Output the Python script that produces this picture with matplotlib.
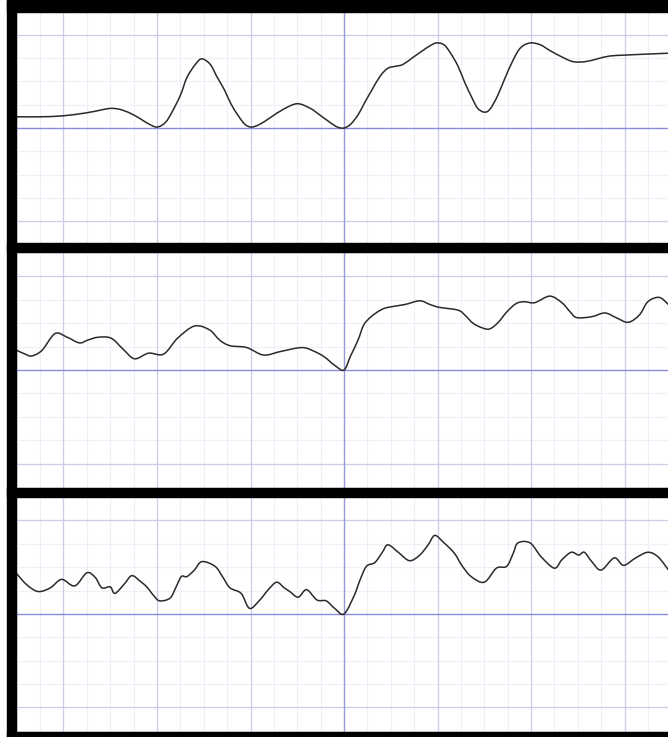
import matplotlib
matplotlib.use("Agg")
import matplotlib.pyplot as plt
from matplotlib.patches import Rectangle, PathPatch
from matplotlib.path import Path

# ---- data (x in grid units, y in grid units) ----
x1 = [-3.50, -3.25, -3.01, -2.77, -2.61, -2.50, -2.40, -2.29, -2.18, -2.10, -2.00, -1.91, -1.84,
      -1.75, -1.68, -1.59, -1.52, -1.43, -1.36, -1.28, -1.21, -1.13, -1.06, -0.99, -0.90, -0.79,
      -0.65, -0.50, -0.36, -0.26, -0.15, -0.07, 0.00, 0.07, 0.15, 0.22, 0.30, 0.39, 0.47, 0.55,
      0.63, 0.73, 0.83, 0.92, 0.99, 1.07, 1.14, 1.22, 1.29, 1.37, 1.43, 1.50, 1.56, 1.64, 1.72,
      1.81, 1.89, 1.99, 2.10, 2.20, 2.33, 2.45, 2.58, 2.71, 2.84, 3.01, 3.22, 3.47]
y1 = [0.12, 0.12, 0.13, 0.16, 0.19, 0.21, 0.20, 0.16, 0.10, 0.05, 0.01, 0.06, 0.17,
      0.35, 0.54, 0.68, 0.74, 0.68, 0.55, 0.41, 0.26, 0.13, 0.04, 0.01, 0.04, 0.11,
      0.20, 0.26, 0.21, 0.14, 0.06, 0.01, 0.00, 0.04, 0.14, 0.27, 0.41, 0.56, 0.64, 0.66,
      0.68, 0.75, 0.82, 0.88, 0.91, 0.89, 0.80, 0.66, 0.49, 0.32, 0.21, 0.17, 0.20, 0.34, 0.53,
      0.73, 0.86, 0.91, 0.89, 0.83, 0.76, 0.71, 0.71, 0.74, 0.77, 0.78, 0.79, 0.80]

x2 = [-3.50, -3.41, -3.34, -3.23, -3.09, -2.96, -2.83, -2.74, -2.63, -2.49, -2.36, -2.24, -2.09,
      -1.93, -1.78, -1.60, -1.44, -1.33, -1.22, -1.04, -0.86, -0.67, -0.45, -0.32, -0.21, -0.10,
      0.00, 0.07, 0.15, 0.21, 0.29, 0.39, 0.47, 0.65, 0.81, 0.92, 1.02, 1.22, 1.30, 1.38, 1.48,
      1.56, 1.65, 1.74, 1.84, 1.93, 2.04, 2.20, 2.33, 2.42, 2.49, 2.65, 2.79, 2.91, 3.04, 3.16,
      3.24, 3.32, 3.39, 3.47]
y2 = [0.21, 0.17, 0.15, 0.21, 0.39, 0.35, 0.29, 0.32, 0.35, 0.34, 0.22, 0.12, 0.18,
      0.17, 0.34, 0.47, 0.43, 0.32, 0.26, 0.24, 0.16, 0.20, 0.24, 0.20, 0.14, 0.05,
      0.00, 0.15, 0.32, 0.48, 0.57, 0.64, 0.67, 0.70, 0.74, 0.70, 0.67, 0.64, 0.58, 0.50, 0.45,
      0.44, 0.51, 0.62, 0.71, 0.73, 0.72, 0.79, 0.72, 0.62, 0.56, 0.57, 0.61, 0.56, 0.51, 0.59,
      0.72, 0.77, 0.77, 0.70]

x3 = [-3.50, -3.39, -3.27, -3.14, -3.02, -2.88, -2.75, -2.66, -2.59, -2.50, -2.45, -2.35, -2.27,
      -2.18, -2.11, -2.03, -1.97, -1.86, -1.80, -1.74, -1.68, -1.60, -1.52, -1.38, -1.30, -1.22,
      -1.10, -1.01, -0.90, -0.81, -0.72, -0.64, -0.58, -0.49, -0.40, -0.29, -0.19, -0.10, 0.00,
      0.11, 0.17, 0.24, 0.33, 0.41, 0.47, 0.58, 0.70, 0.81, 0.90, 0.97, 1.06, 1.18, 1.26, 1.36,
      1.50, 1.63, 1.74, 1.81, 1.86, 1.99, 2.11, 2.25, 2.33, 2.43, 2.51, 2.57, 2.65, 2.75, 2.89,
      2.99, 3.12, 3.25, 3.36, 3.47]
y3 = [0.43, 0.31, 0.24, 0.28, 0.37, 0.30, 0.44, 0.39, 0.28, 0.29, 0.22, 0.32, 0.41,
      0.35, 0.29, 0.19, 0.14, 0.17, 0.28, 0.40, 0.40, 0.47, 0.56, 0.51, 0.40, 0.28,
      0.22, 0.06, 0.15, 0.26, 0.34, 0.28, 0.24, 0.18, 0.26, 0.15, 0.14, 0.06, 0.00,
      0.20, 0.36, 0.51, 0.55, 0.66, 0.74, 0.66, 0.57, 0.63, 0.74, 0.84, 0.77, 0.65, 0.52, 0.40,
      0.34, 0.49, 0.51, 0.65, 0.76, 0.76, 0.61, 0.49, 0.58, 0.66, 0.63, 0.66, 0.56, 0.47, 0.60,
      0.52, 0.60, 0.66, 0.61, 0.47]

series = [(x1, y1), (x2, y2), (x3, y3)]
xlim = (-3.508, 3.465)
ylims = [(-1.230, 1.241), (-1.262, 1.262), (-1.262, 1.251)]
major_ticks = [-3, -2, -1, 0, 1, 2, 3]
minor_ticks = [i * 0.25 for i in range(-16, 16)]
ymajor = [-1, 0, 1]
yminor = [i * 0.25 for i in range(-6, 7)]

W, H = 668, 737
fig = plt.figure(figsize=(W / 100, H / 100), dpi=100)
fig.patch.set_facecolor("white")

boxes = [(12, 243), (252, 488), (497, 732)]
left_px, right_px = 16, 668


def smooth_path(xs, ys):
    # Catmull-Rom style cubic Bezier path through the read points (drawing style only)
    verts = [(xs[0], ys[0])]
    codes = [Path.MOVETO]
    n = len(xs)
    for i in range(n - 1):
        x0, y0 = (xs[i - 1], ys[i - 1]) if i > 0 else (xs[i], ys[i])
        xa, ya = xs[i], ys[i]
        xb, yb = xs[i + 1], ys[i + 1]
        x3_, y3_ = (xs[i + 2], ys[i + 2]) if i + 2 < n else (xb, yb)
        c1 = (xa + (xb - x0) / 6.0, ya + (yb - y0) / 6.0)
        c2 = (xb - (x3_ - xa) / 6.0, yb - (y3_ - ya) / 6.0)
        verts += [c1, c2, (xb, yb)]
        codes += [Path.CURVE4] * 3
    return Path(verts, codes)


for (xs, ys), (top, bot), yl in zip(series, boxes, ylims):
    ax = fig.add_axes([left_px / W, 1 - bot / H, (right_px - left_px) / W, (bot - top) / H])
    ax.set_xlim(*xlim)
    ax.set_ylim(*yl)
    for s in ax.spines.values():
        s.set_visible(False)
    for v in minor_ticks:
        ax.axvline(v, color="#efeff9", lw=0.8, zorder=0)
    for v in yminor:
        ax.axhline(v, color="#efeff9", lw=0.8, zorder=0)
    for v in major_ticks:
        if v != 0:
            ax.axvline(v, color="#cdcdea", lw=0.9, zorder=1)
    for v in ymajor:
        if v != 0:
            ax.axhline(v, color="#cdcdea", lw=0.9, zorder=1)
    ax.axvline(0, color="#9898dc", lw=1.0, zorder=2)
    ax.axhline(0, color="#8a8ade", lw=1.0, zorder=2)
    ax.add_patch(PathPatch(smooth_path(xs, ys), fill=False, edgecolor="#2a2a2a",
                           lw=1.1, zorder=3, capstyle="round", joinstyle="round"))
    ax.set_xticks([])
    ax.set_yticks([])
    ax.set_facecolor("white")


def band(x0, y0, x1_, y1_):
    fig.patches.append(Rectangle((x0 / W, 1 - y1_ / H), (x1_ - x0) / W, (y1_ - y0) / H,
                                 transform=fig.transFigure, color="black", zorder=10))


band(7, 0, 668, 12)
band(7, 0, 16, 737)
band(7, 243, 668, 252)
band(7, 488, 668, 497)
band(7, 732, 668, 737)

fig.savefig("out.png", dpi=100, facecolor="white")
